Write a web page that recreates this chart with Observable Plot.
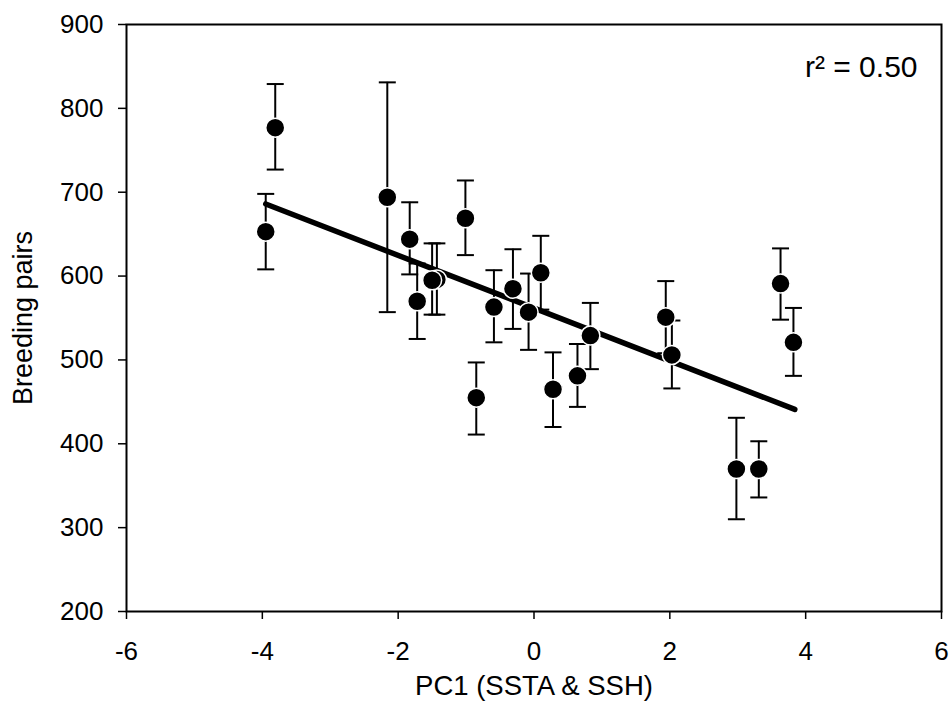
<!DOCTYPE html>
<html>
<head>
<meta charset="utf-8">
<script src="https://cdn.jsdelivr.net/npm/d3@7"></script>
<script src="https://cdn.jsdelivr.net/npm/@observablehq/plot@0.6"></script>
<style>
  html, body { margin: 0; padding: 0; background: #fff; }
</style>
</head>
<body>
<div id="chart"></div>
<script>
// PC1 score (x), mean breeding pairs (y) and error bar limits
const pc1   = [-3.95, -3.81, -2.16, -1.83, -1.72, -1.43, -1.50, -1.01, -0.85, -0.59, -0.31, -0.08, 0.10, 0.28, 0.64, 0.83, 1.94, 2.03, 2.98, 3.31, 3.63, 3.82];
const pairs = [653, 777, 694, 644, 570, 596, 595, 669, 455, 563, 585, 557, 604, 465, 481, 529, 551, 506, 370, 370, 591, 521];
const upper = [698, 829, 831, 688, 615, 639, 639, 714, 497, 607, 632, 603, 648, 509, 519, 568, 594, 547, 431, 403, 633, 562];
const lower = [608, 727, 557, 602, 525, 554, 554, 625, 411, 521, 537, 512, 560, 420, 444, 489, 508, 466, 310, 336, 548, 481];

// fitted regression line end points
const fitX = [-3.95, 3.84];
const fitY = [686, 441];

const xTicks = [-6, -4, -2, 0, 2, 4, 6];
const yTicks = [200, 300, 400, 500, 600, 700, 800, 900];

const data = pc1.map((x, i) => ({x, y: pairs[i], hi: upper[i], lo: lower[i]}));
const fit = fitX.map((x, i) => ({x, y: fitY[i]}));

const cap = {
  draw(ctx, size) {
    const r = Math.sqrt(size / Math.PI);
    ctx.moveTo(-r, 0);
    ctx.lineTo(r, 0);
  }
};

const font = "'Liberation Sans', Arial, Helvetica, sans-serif";

const chart = Plot.plot({
  width: 952,
  height: 716,
  marginLeft: 126,
  marginRight: 11,
  marginTop: 24,
  marginBottom: 105,
  style: {fontFamily: font, fontSize: "26px", color: "black", background: "white"},
  x: {domain: [-6, 6]},
  y: {domain: [200, 900]},
  marks: [
    Plot.axisX({ticks: xTicks, tickSize: 8, tickPadding: 22, strokeWidth: 1.5, label: null, fontSize: 26, tickFormat: d => String(d).replace("−", "-")}),
    Plot.axisY({ticks: yTicks, tickSize: 8, tickPadding: 15, strokeWidth: 1.5, label: null, fontSize: 26}),
    Plot.ruleX(data, {x: "x", y1: "lo", y2: "hi", stroke: "black", strokeWidth: 2}),
    Plot.dot(data, {x: "x", y: "hi", symbol: cap, r: 8.5, stroke: "black", strokeWidth: 2, fill: "none"}),
    Plot.dot(data, {x: "x", y: "lo", symbol: cap, r: 8.5, stroke: "black", strokeWidth: 2, fill: "none"}),
    Plot.line(fit, {x: "x", y: "y", stroke: "black", strokeWidth: 5.5, strokeLinecap: "round"}),
    Plot.dot(data, {x: "x", y: "y", r: 9.5, fill: "black", stroke: "white", strokeWidth: 1.5}),
    Plot.frame({stroke: "black", strokeWidth: 2}),
    Plot.text(["r² = 0.50"], {frameAnchor: "top-right", dx: -24, dy: 43, lineAnchor: "middle", textAnchor: "end", fontSize: 30, fill: "black"}),
    Plot.text(["PC1 (SSTA & SSH)"], {frameAnchor: "bottom", dy: 75, lineAnchor: "middle", textAnchor: "middle", fontSize: 27.5, fill: "black"}),
    Plot.text(["Breeding pairs"], {frameAnchor: "left", dx: -103, rotate: -90, lineAnchor: "middle", textAnchor: "middle", fontSize: 27, fill: "black"})
  ]
});

document.getElementById("chart").appendChild(chart);
</script>
</body>
</html>
